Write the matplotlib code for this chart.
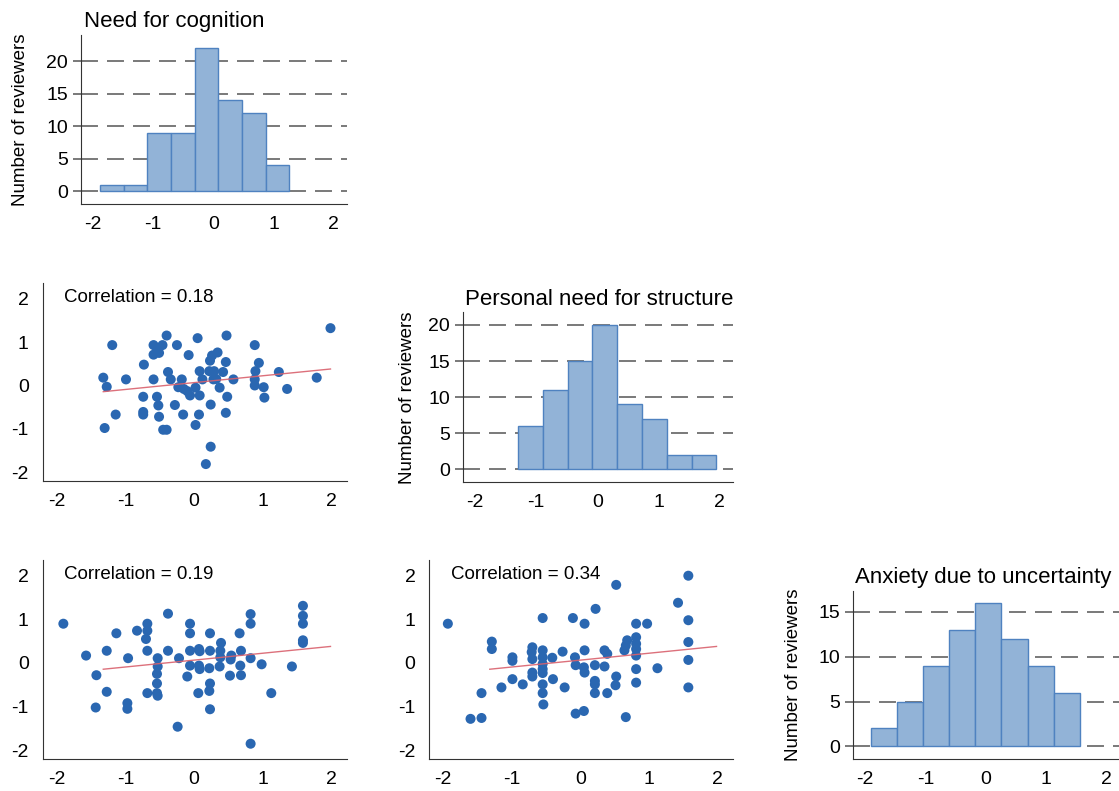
import numpy as np
import matplotlib
matplotlib.use('Agg')
import matplotlib.pyplot as plt

plt.rcParams['font.family'] = ['Liberation Sans', 'DejaVu Sans']
plt.rcParams['axes.unicode_minus'] = False

# ---------------------------- data ----------------------------
# histograms: first bin edge, bin width, counts
nfc_start, nfc_width = -1.884, 0.393
nfc_counts = [1, 1, 9, 9, 22, 14, 12, 4]

pns_start, pns_width = -1.30, 0.406
pns_counts = [6, 11, 15, 20, 9, 7, 2, 2]

au_start, au_width = -1.907, 0.433
au_counts = [2, 5, 9, 13, 16, 12, 9, 6]

# scatter: personal need for structure (x) vs need for cognition (y)
pns_nfc = [
    (1.98, 1.32), (-1.19, 0.93), (-1.32, 0.18), (-1.27, -0.03), (-0.99, 0.14),
    (-1.30, -0.98), (-1.14, -0.67), (-0.73, 0.48), (-0.74, -0.26), (-0.74, -0.61),
    (-0.74, -0.67), (-0.59, 0.93), (-0.59, 0.71), (-0.53, 0.79), (-0.46, 0.93),
    (-0.51, 0.75), (-0.59, 0.14), (-0.40, 1.15), (-0.25, 0.93), (-0.38, 0.31),
    (-0.34, 0.14), (-0.54, -0.26), (-0.52, -0.46), (-0.51, -0.72), (-0.45, -1.02),
    (-0.40, -1.02), (-0.28, -0.45), (-0.23, -0.04), (-0.18, 0.14), (-0.16, -0.67),
    (-0.08, 0.70), (-0.15, -0.08), (-0.10, -0.13), (-0.06, -0.23), (0.02, -0.05),
    (0.02, -0.91), (0.05, 1.09), (0.08, 0.33), (0.07, -0.67), (0.08, -0.23),
    (0.12, 0.14), (0.17, -1.81), (0.24, -1.41), (0.24, -0.44), (0.23, 0.57),
    (0.26, 0.69), (0.34, 0.76), (0.29, 0.33), (0.22, 0.33), (0.32, 0.15),
    (0.28, 0.14), (0.37, -0.05), (0.46, 0.54), (0.42, 0.31), (0.47, 1.15),
    (0.48, -0.26), (0.46, -0.63), (0.57, 0.14), (0.88, 0.93), (0.89, 0.33),
    (0.88, 0.14), (0.88, 0.00), (0.94, 0.52), (1.01, -0.04), (1.02, -0.28),
    (1.23, 0.31), (1.35, -0.08), (1.78, 0.18),
]

# scatter: anxiety due to uncertainty (x) vs need for cognition (y)
au_nfc = [
    (-1.90, 0.90), (-1.57, 0.17), (-1.42, -0.28), (-1.43, -1.02), (-1.27, 0.28),
    (-1.27, -0.66), (-1.13, 0.68), (-0.96, 0.11), (-0.97, -0.92), (-0.97, -1.05),
    (-0.83, 0.74), (-0.68, 0.90), (-0.68, 0.74), (-0.70, 0.55), (-0.68, 0.28),
    (-0.68, -0.69), (-0.53, 0.11), (-0.53, -0.08), (-0.54, -0.25), (-0.54, -0.47),
    (-0.54, -0.69), (-0.53, -0.75), (-0.38, 1.13), (-0.38, 0.28), (-0.24, -1.46),
    (-0.22, 0.11), (-0.10, -0.31), (-0.06, 0.90), (-0.06, 0.68), (-0.06, 0.28),
    (-0.06, -0.06), (0.06, -0.69), (0.07, 0.32), (0.08, 0.27), (0.07, -0.06),
    (0.08, -0.14), (0.23, 0.68), (0.23, 0.28), (0.22, -0.12), (0.23, -0.47),
    (0.22, -0.64), (0.23, -1.06), (0.39, 0.46), (0.38, 0.28), (0.38, 0.13),
    (0.37, -0.08), (0.54, 0.17), (0.53, 0.08), (0.52, -0.29), (0.66, 0.68),
    (0.68, 0.28), (0.67, -0.06), (0.68, -0.28), (0.82, 1.12), (0.82, 0.90),
    (0.82, 0.11), (0.82, -1.85), (0.98, -0.03), (1.12, -0.69), (1.42, -0.08),
    (1.58, 1.31), (1.58, 1.08), (1.58, 0.90), (1.58, 0.52), (1.58, 0.46),
]

# scatter: anxiety due to uncertainty (x) vs personal need for structure (y)
au_pns = [
    (1.57, 2.00), (0.52, 1.79), (1.42, 1.38), (0.22, 1.24), (-0.55, 1.03),
    (-0.11, 1.03), (0.06, 0.90), (-1.93, 0.90), (0.81, 0.90), (0.97, 0.90),
    (1.57, 0.98), (-1.29, 0.49), (-1.29, 0.32), (0.81, 0.59), (0.81, 0.44),
    (0.81, 0.32), (0.81, 0.17), (0.68, 0.52), (0.66, 0.40), (0.64, 0.29),
    (1.57, 0.48), (1.57, 0.07), (1.57, -0.56), (0.81, -0.14), (0.81, -0.45),
    (0.66, -1.24), (1.12, -0.12), (0.35, 0.29), (0.39, 0.21), (0.35, -0.08),
    (0.39, -0.69), (0.52, -0.31), (0.51, -0.51), (0.21, -0.05), (0.21, -0.41),
    (0.21, -0.49), (0.21, -0.69), (0.06, 0.29), (0.05, -0.10), (0.06, -0.22),
    (0.05, -1.10), (-0.07, -1.16), (-0.08, 0.13), (-0.07, -0.05), (-0.26, 0.26),
    (-0.23, -0.56), (-0.41, 0.12), (-0.40, -0.37), (-0.55, 0.29), (-0.55, 0.13),
    (-0.55, -0.02), (-0.55, -0.14), (-0.55, -0.23), (-0.55, -0.49), (-0.55, -0.69),
    (-0.54, -0.95), (-0.70, 0.36), (-0.71, 0.25), (-0.70, 0.09), (-0.70, -0.22),
    (-0.70, -0.31), (-0.84, -0.49), (-0.99, 0.13), (-0.99, 0.05), (-0.99, -0.37),
    (-1.15, -0.56), (-1.44, -0.69), (-1.44, -1.26), (-1.60, -1.28),
]

correlations = ['0.18', '0.19', '0.34']
titles = ['Need for cognition', 'Personal need for structure', 'Anxiety due to uncertainty']
ylabel = 'Number of reviewers'
ticks = [-2, -1, 0, 1, 2]

# ---------------------------- style ----------------------------
W, H = 1119, 791
BAR_FACE = '#92b3d7'
BAR_EDGE = '#4f82c0'
DOT = '#2a67b1'
FIT = '#d9616d'
GRID = '#6e6e6e'
SPINE = '#333333'
XLIM = (-2.2, 2.22)


def add_axes_px(fig, left, top, right, bottom):
    """axes placed by pixel edges (origin top-left)"""
    return fig.add_axes([left / W, 1 - bottom / H, (right - left) / W, (bottom - top) / H])


def base_style(ax):
    for s in ('top', 'right'):
        ax.spines[s].set_visible(False)
    for s in ('left', 'bottom'):
        ax.spines[s].set_color(SPINE)
        ax.spines[s].set_linewidth(0.8)
    ax.set_xlim(*XLIM)
    ax.set_xticks(ticks)
    ax.set_xticklabels([str(t) for t in ticks])
    ax.tick_params(axis='x', length=0, pad=8.5, labelsize=14)


def draw_hist(ax, start, width, counts, ylim, yticks):
    base_style(ax)
    lefts = start + width * np.arange(len(counts))
    ax.bar(lefts, counts, width=width, align='edge', color=BAR_FACE,
           edgecolor=BAR_EDGE, linewidth=1.0, zorder=3)
    # dashed grid: 17px on, 9px off at 1.3pt
    for v in yticks:
        ax.axhline(v, color=GRID, lw=1.3, ls=(0, (9.4, 5.0)), zorder=1)
    ax.set_ylim(*ylim)
    ax.set_yticks(yticks)
    ax.tick_params(axis='y', length=5.8, width=1.3, color=GRID, pad=3.4, labelsize=14)


def draw_scatter(ax, pts, fit_x, fit_coef, corr):
    base_style(ax)
    pts = np.array(pts)
    ax.scatter(pts[:, 0], pts[:, 1], s=52, color=DOT, edgecolors='none', zorder=3)
    ax.plot(fit_x, np.polyval(fit_coef, fit_x), color=FIT, lw=1.0, alpha=0.9, zorder=4)
    ax.set_ylim(-2.2, 2.36)
    ax.set_yticks(ticks)
    ax.set_yticklabels([str(t) for t in ticks])
    ax.tick_params(axis='y', length=0, pad=10, labelsize=14)
    ax.text(-1.89, 2.02, 'Correlation = ' + corr, fontsize=13.5, ha='left', va='center')


def main():
    fig = plt.figure(figsize=(W / 100, H / 100), dpi=100)

    # diagonal histograms
    h1 = add_axes_px(fig, 81, 35, 347, 204)
    draw_hist(h1, nfc_start, nfc_width, nfc_counts, (-1.95, 24), [0, 5, 10, 15, 20])
    h2 = add_axes_px(fig, 463, 312, 733, 482)
    draw_hist(h2, pns_start, pns_width, pns_counts, (-1.76, 21.8), [0, 5, 10, 15, 20])
    h3 = add_axes_px(fig, 853, 591, 1120, 759)
    draw_hist(h3, au_start, au_width, au_counts, (-1.4, 17.3), [0, 5, 10, 15])

    # the same fitted line (first pair) is drawn in every scatter panel
    p = np.array(pns_nfc)
    coef = np.polyfit(p[:, 0], p[:, 1], 1)
    fit_x = np.array([p[:, 0].min(), p[:, 0].max()])

    s1 = add_axes_px(fig, 42.7, 283, 347, 481)
    draw_scatter(s1, pns_nfc, fit_x, coef, correlations[0])
    s2 = add_axes_px(fig, 42.7, 560, 347, 759)
    draw_scatter(s2, au_nfc, fit_x, coef, correlations[1])
    s3 = add_axes_px(fig, 429.3, 560, 733, 759)
    draw_scatter(s3, au_pns, fit_x, coef, correlations[2])

    # titles and y labels, placed like the original
    for (cx, by), t in zip([(174, 27), (599.5, 305), (983, 583)], titles):
        fig.text(cx / W, 1 - by / H, t, ha='center', va='baseline', fontsize=16)
    for cx, cy in [(21, 120), (408, 398), (794, 675)]:
        fig.text(cx / W, 1 - cy / H, ylabel, rotation=90, ha='center', va='center', fontsize=13.5)

    fig.savefig('out.png', dpi=100)


if __name__ == '__main__':
    main()
